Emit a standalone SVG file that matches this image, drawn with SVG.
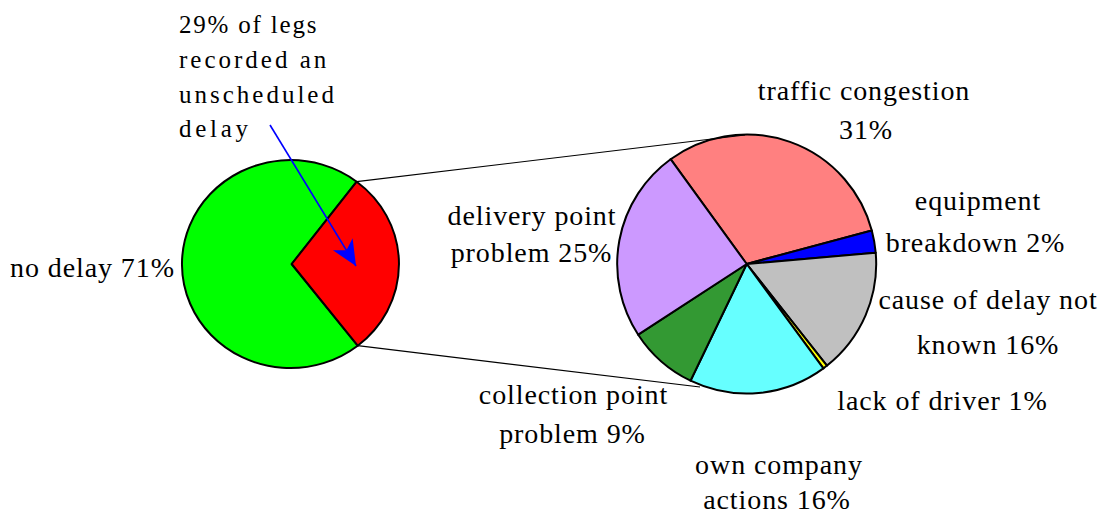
<svg xmlns="http://www.w3.org/2000/svg" width="1101" height="520" viewBox="0 0 1101 520" font-family="'Liberation Serif', 'Times New Roman', Times, serif">
  <style>
    text { font-family: 'Liberation Serif', 'Times New Roman', Times, serif; fill: #000; }
    .lbl { font-size: 28px; letter-spacing: 0.9px; }
    .mid { text-anchor: middle; }
    .note { font-size: 25px; letter-spacing: 3px; }
    .note.tight { letter-spacing: 1.8px; }
    .note.wide { letter-spacing: 3.7px; }
    .slice { stroke: #000; stroke-width: 2; stroke-linejoin: round; }
    .link { stroke: #000; stroke-width: 1.2; fill: none; }
    .pointer { stroke: #0000FF; stroke-width: 1.6; fill: none; }
  </style>
  <defs>
    <marker id="blueHead" markerUnits="userSpaceOnUse" markerWidth="30" markerHeight="30" viewBox="-24 -12 26 24" refX="0" refY="0" orient="auto">
      <path d="M0,0 L-22,-10 L-16,0 L-22,10 Z" fill="#0000FF"/>
    </marker>
  </defs>

  <rect width="1101" height="520" fill="#FFFFFF"/>

  <!-- overall split: delayed vs not delayed -->
  <g id="pie-overall">
    <path id="slice-no-delay" class="slice" fill="#00FF00" d="M291.7,264 L357.7,345.7 A108.5,104 0 1 1 356.7,181.7 Z"/>
    <path id="slice-delay" class="slice" fill="#FF0000" d="M291.7,264 L356.7,181.7 A108.5,104 0 0 1 357.7,345.7 Z"/>
  </g>

  <!-- breakdown of delay causes -->
  <g id="pie-causes">
    <path id="slice-traffic" class="slice" fill="#FF8080" d="M746.7,264 L670.6,159.2 A129.5,129.5 0 0 1 871.8,230.5 Z"/>
    <path id="slice-equipment" class="slice" fill="#0000FF" d="M746.7,264 L871.8,230.5 A129.5,129.5 0 0 1 875.7,252.7 Z"/>
    <path id="slice-unknown" class="slice" fill="#C0C0C0" d="M746.7,264 L875.7,252.7 A129.5,129.5 0 0 1 826.9,365.6 Z"/>
    <path id="slice-driver" class="slice" fill="#FFFF00" d="M746.7,264 L826.9,365.6 A129.5,129.5 0 0 1 823.4,368.4 Z"/>
    <path id="slice-own" class="slice" fill="#66FFFF" d="M746.7,264 L823.4,368.4 A129.5,129.5 0 0 1 690.5,380.7 Z"/>
    <path id="slice-collection" class="slice" fill="#339933" d="M746.7,264 L690.5,380.7 A129.5,129.5 0 0 1 638.2,334.7 Z"/>
    <path id="slice-delivery" class="slice" fill="#CC99FF" d="M746.7,264 L638.2,334.7 A129.5,129.5 0 0 1 670.6,159.2 Z"/>
  </g>

  <!-- connector lines between the two pies, and the note pointer -->
  <g id="connectors">
    <line class="link" x1="356.7" y1="181.7" x2="745" y2="135"/>
    <line class="link" x1="357.7" y1="345.7" x2="700" y2="387"/>
    <line class="pointer" x1="270" y1="125" x2="356" y2="266" marker-end="url(#blueHead)"/>
  </g>

  <g id="note">
    <text class="note tight" x="179" y="33">29% of legs</text>
    <text class="note" x="179" y="68">recorded an</text>
    <text class="note" x="179" y="102.5">unscheduled</text>
    <text class="note wide" x="179" y="137">delay</text>
  </g>

  <g id="label-no-delay">
    <text class="lbl mid" x="92.5" y="277">no delay 71%</text>
  </g>
  <g id="label-traffic">
    <text class="lbl mid" x="864" y="100">traffic congestion</text>
    <text class="lbl mid" x="866" y="138.5">31%</text>
  </g>
  <g id="label-equipment">
    <text class="lbl mid" x="978" y="210">equipment</text>
    <text class="lbl mid" x="975.5" y="251.5">breakdown 2%</text>
  </g>
  <g id="label-unknown">
    <text class="lbl mid" x="988" y="308.5">cause of delay not</text>
    <text class="lbl mid" x="988" y="353.5">known 16%</text>
  </g>
  <g id="label-driver">
    <text class="lbl mid" x="942.5" y="410">lack of driver 1%</text>
  </g>
  <g id="label-own">
    <text class="lbl mid" x="779" y="473.5">own company</text>
    <text class="lbl mid" x="777" y="508.5">actions 16%</text>
  </g>
  <g id="label-collection">
    <text class="lbl mid" x="573.5" y="403.5">collection point</text>
    <text class="lbl mid" x="572.5" y="442.5">problem 9%</text>
  </g>
  <g id="label-delivery">
    <text class="lbl mid" x="532" y="225">delivery point</text>
    <text class="lbl mid" x="531.5" y="261.5">problem 25%</text>
  </g>
</svg>
